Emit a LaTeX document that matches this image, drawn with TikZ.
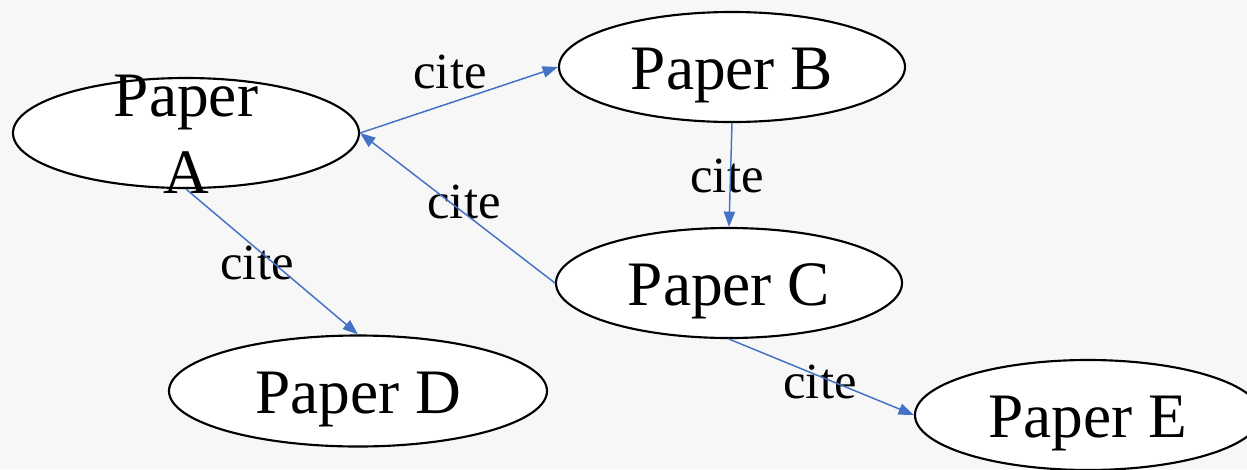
\documentclass[tikz,border=0pt]{standalone}
\usepackage{fontspec}
\setmainfont{Liberation Serif}
\usetikzlibrary{shapes.geometric,arrows.meta}
\definecolor{linkblue}{RGB}{68,114,196}
\definecolor{paperbg}{RGB}{247,247,247}
\begin{document}
\begin{tikzpicture}[x=0.75pt,y=-0.75pt,
  paper/.style={ellipse,draw=black,line width=1.6pt,fill=white,inner sep=0pt,
    minimum width=259.5pt,minimum height=82.5pt,
    font=\fontsize{47.5}{57}\selectfont,text height=33pt,text depth=0pt},
  papertext/.style={font=\fontsize{47.5}{57.75}\selectfont,align=center,inner sep=0pt},
  citearrow/.style={draw=linkblue,line width=1.1pt,-{Triangle[length=11.5pt,width=8.5pt]}},
  citelabel/.style={font=\fontsize{38}{45}\selectfont,anchor=base,inner sep=0pt}]

% canvas
\useasboundingbox (0,0) rectangle (1247,469);
\fill[paperbg] (0,0) rectangle (1247,469);
\clip (0,0) rectangle (1247,469);

% papers
\node[paper] (A) at (186,133) {};
\node[papertext] (Atext) at (186,134) {Paper\\A};
\node[paper] (B) at (732,67) {Paper B};
\node[paper] (C) at (729,283) {Paper C};
\node[paper,minimum width=283.5pt,minimum height=83.25pt] (D) at (358,391) {Paper D};
\node[paper] (E) at (1088,415) {Paper E};

% edge labels
\node[citelabel] (lab) at (450,88) {cite};
\node[citelabel] (lbc) at (727,192) {cite};
\node[citelabel] (lca) at (464,218) {cite};
\node[citelabel] (lad) at (257,279) {cite};
\node[citelabel] (lce) at (820,398) {cite};

% citations
\draw[citearrow] (A.east) -- (B.west);
\draw[citearrow] (B.south) -- (C.north);
\draw[citearrow] (C.west) -- (A.east);
\draw[citearrow] (A.south) -- (D.north);
\draw[citearrow] (C.south) -- (E.west);
\end{tikzpicture}
\end{document}
